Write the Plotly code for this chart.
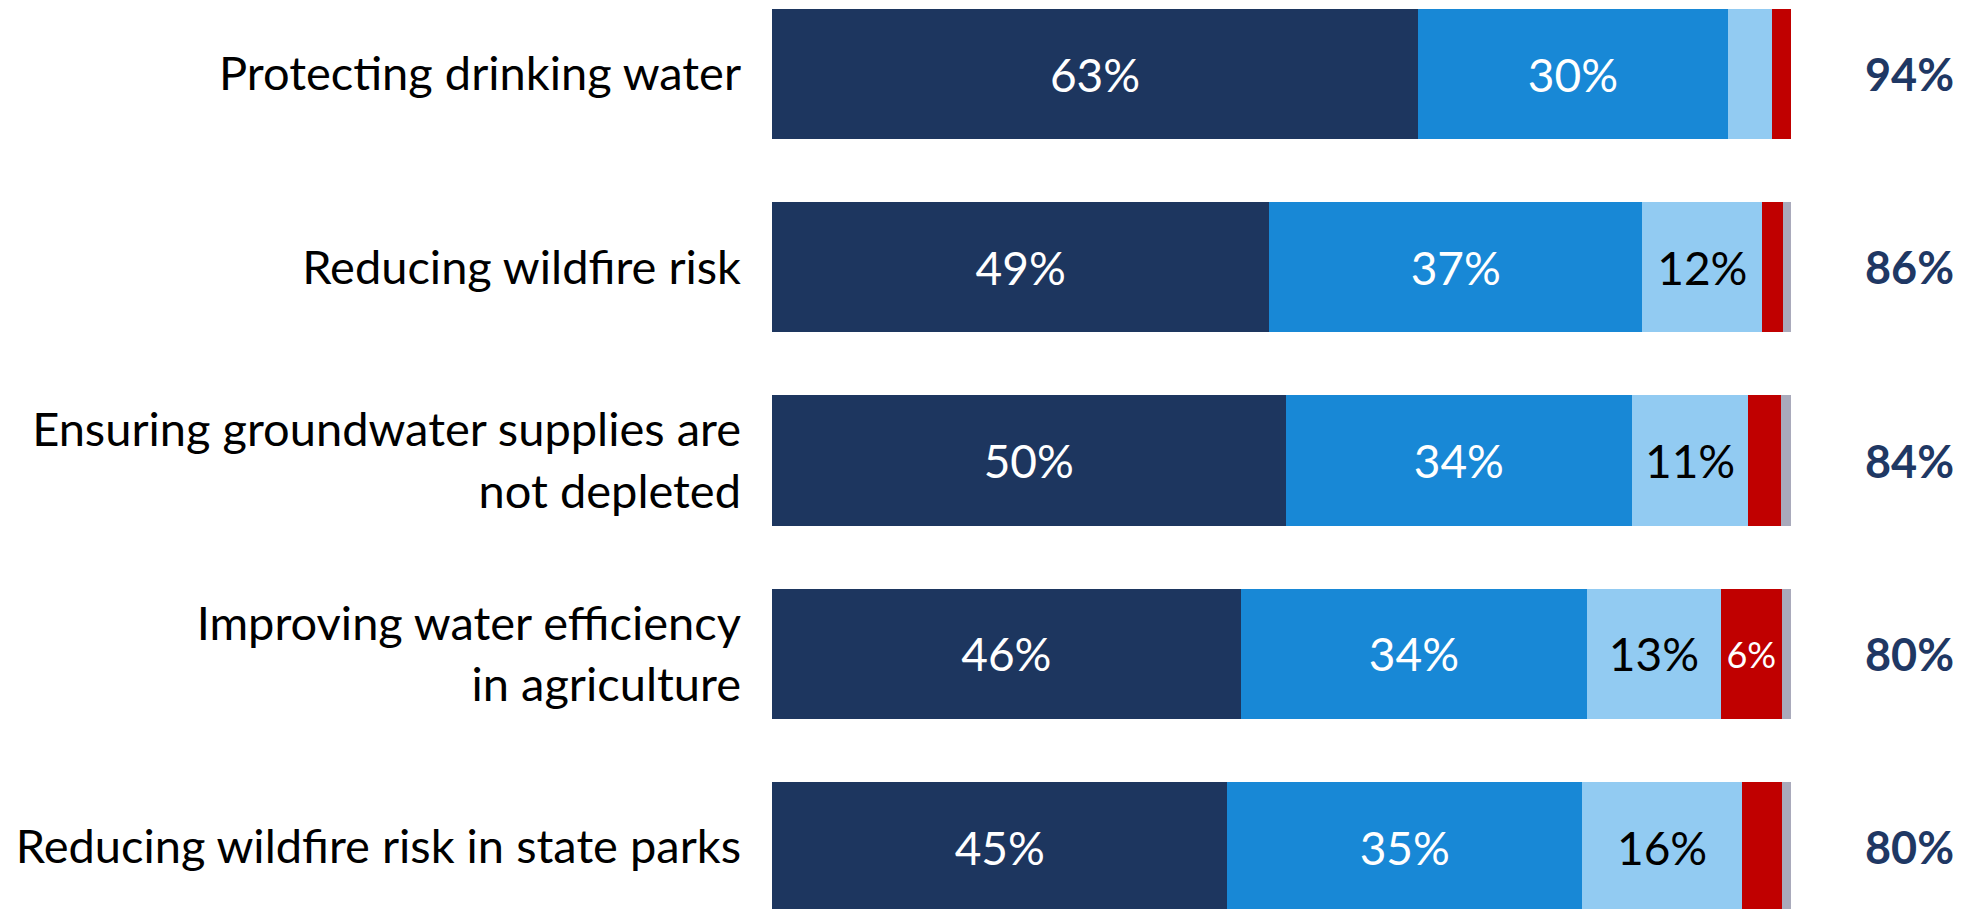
import plotly.graph_objects as go

categories = [
    "Protecting drinking water",
    "Reducing wildfire risk",
    "Ensuring groundwater supplies are<br>not depleted",
    "Improving water efficiency<br>in agriculture",
    "Reducing wildfire risk in state parks",
]
very_important = [63.4, 48.8, 50.4, 46.0, 44.7]
somewhat_important = [30.4, 36.6, 34.0, 34.0, 34.8]
not_too_important = [4.3, 11.8, 11.4, 13.1, 15.7]
not_at_all_important = [1.9, 2.0, 3.2, 6.0, 3.9]
dont_know = [0.0, 0.8, 1.0, 0.9, 0.9]
totals = [94, 86, 84, 80, 80]

series = [
    ("Very important", very_important, "#1D365F", "white", 46),
    ("Somewhat important", somewhat_important, "#1888D6", "white", 46),
    ("Not too important", not_too_important, "#92CBF2", "black", 46),
    ("Not at all important", not_at_all_important, "#C00000", "white", 36),
    ("Don't know", dont_know, "#A9AABB", "white", 30),
]

FONT = "Lato"
ypos = list(range(len(categories)))

fig = go.Figure()
for name, vals, color, tcolor, tsize in series:
    labels = [f"{round(v)}%" if v >= 5 else "" for v in vals]
    fig.add_trace(go.Bar(
        name=name, y=ypos, x=vals, orientation="h",
        marker=dict(color=color, line=dict(width=0)),
        text=labels, textposition="inside", insidetextanchor="middle",
        textangle=0,
        textfont=dict(family=FONT, size=tsize, color=tcolor),
        width=0.673,
    ))

for i, t in enumerate(totals):
    fig.add_annotation(
        x=1.1158, y=i, xref="paper", yref="y", text=f"<b>{t}%</b>",
        showarrow=False, xanchor="center", yanchor="middle",
        font=dict(family=FONT, size=45, color="#1F3864"),
    )

fig.update_layout(
    width=1976, height=909,
    barmode="stack", showlegend=False,
    plot_bgcolor="white", paper_bgcolor="white",
    margin=dict(l=764, r=193, t=0, b=0, pad=0),
)
fig.update_xaxes(range=[0, 100], visible=False, fixedrange=True)
fig.update_yaxes(
    range=[4.362, -0.3415], tickvals=ypos, ticktext=categories,
    showgrid=False, zeroline=False, showline=False, ticks="",
    ticklabelstandoff=30, automargin=False,
    tickfont=dict(family=FONT, size=47, color="black"),
)

fig.write_html("out.html")
